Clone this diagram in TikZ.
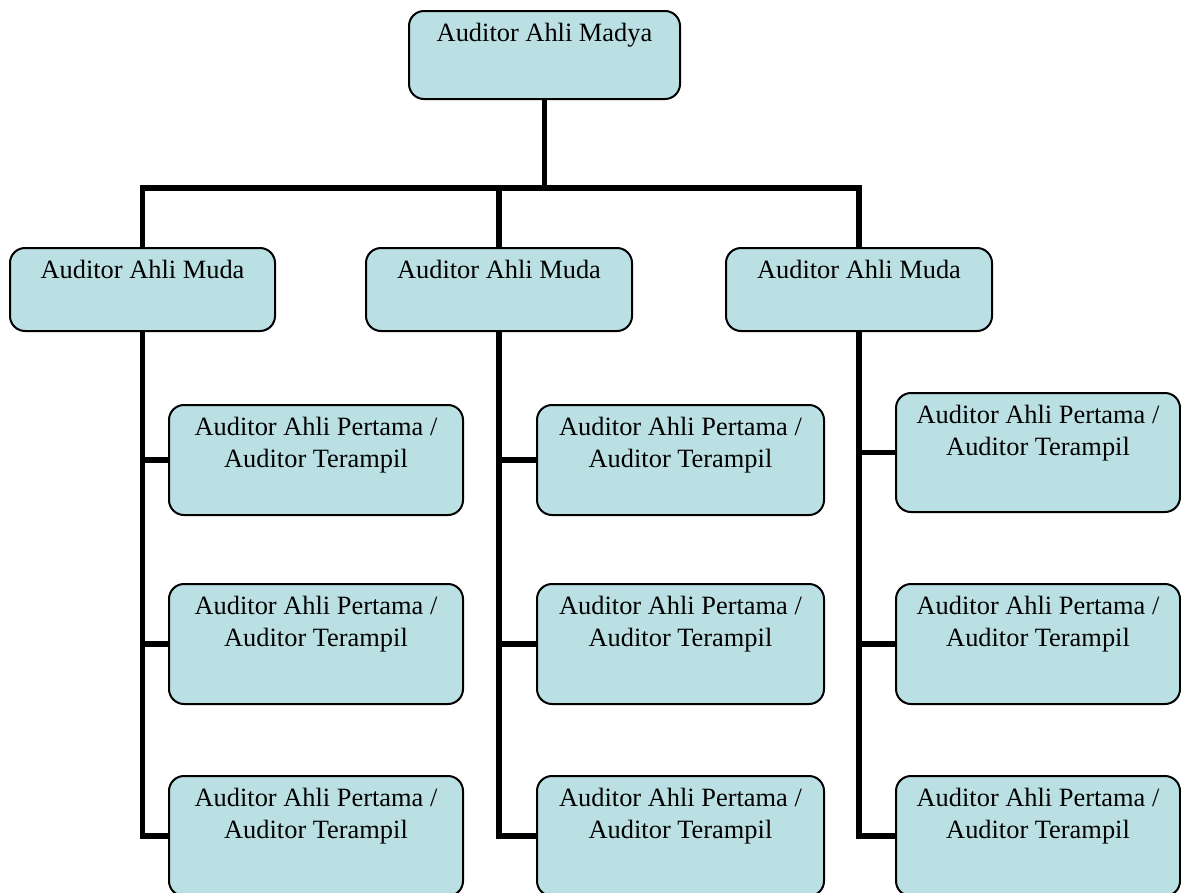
\documentclass[tikz,border=0pt]{standalone}
\usepackage{fontspec}
\setmainfont{Liberation Serif}
\usetikzlibrary{calc}
\definecolor{boxfill}{RGB}{186,224,228}
\tikzset{
  box/.style={draw=black, line width=2pt, fill=boxfill, rounded corners=15pt, anchor=north west, inner sep=0pt},
  lbl/.style={anchor=north, inner sep=0pt, align=center, text=black, font=\fontsize{26.4}{31.7}\selectfont},
  conn/.style={draw=black, line width=5.5pt, line join=miter}
}
\begin{document}
\begin{tikzpicture}[x=1pt,y=-1pt]
\useasboundingbox (0,0) rectangle (1181,892);
\clip (0,0) rectangle (1181,892);
\fill[white] (0,0) rectangle (1181,892);
% boxes
\node[box, minimum width=271pt, minimum height=88pt] (top) at (408,10) {};
\node[box, minimum width=265pt, minimum height=83pt] (m1) at (9,247) {};
\node[box, minimum width=266pt, minimum height=83pt] (m2) at (365,247) {};
\node[box, minimum width=266pt, minimum height=83pt] (m3) at (725,247) {};
\node[box, minimum width=294pt, minimum height=110pt] (p11) at (168,404) {};
\node[box, minimum width=294pt, minimum height=120pt] (p12) at (168,583) {};
\node[box, minimum width=294pt, minimum height=120pt] (p13) at (168,775) {};
\node[box, minimum width=287pt, minimum height=110pt] (p21) at (536,404) {};
\node[box, minimum width=287pt, minimum height=120pt] (p22) at (536,583) {};
\node[box, minimum width=287pt, minimum height=120pt] (p23) at (536,775) {};
\node[box, minimum width=284pt, minimum height=119pt] (p31) at (895,392) {};
\node[box, minimum width=284pt, minimum height=120pt] (p32) at (895,583) {};
\node[box, minimum width=284pt, minimum height=120pt] (p33) at (895,775) {};
% texts
\node[lbl] (topt) at ($(top.north)+(0,9.3)$) {\strut Auditor Ahli Madya};
\foreach \n in {m1,m2,m3}{
  \node[lbl] (\n t) at ($(\n.north)+(0,9.3)$) {\strut Auditor Ahli Muda};
}
\foreach \n in {p11,p12,p13,p21,p22,p23,p31,p32,p33}{
  \node[lbl] (\n t) at ($(\n.north)+(0,9.3)$) {\strut Auditor Ahli Pertama /\\Auditor Terampil};
}
% connectors
\coordinate (j) at ($(top.south)+(0,88)$);
\draw[conn] (top.south) -- (top.south |- j);
\draw[conn] (m1.north) -- (m1.north |- j) -- (m3.north |- j) -- (m3.north);
\draw[conn] (m2.north) -- (m2.north |- j);
\foreach \m/\a/\b/\c in {m1/p11/p12/p13, m2/p21/p22/p23, m3/p31/p32/p33}{
  \draw[conn] (\m.south) |- (\c.west);
  \draw[conn] (\a.west -| \m.south) -- (\a.west);
  \draw[conn] (\b.west -| \m.south) -- (\b.west);
}
\end{tikzpicture}
\end{document}
